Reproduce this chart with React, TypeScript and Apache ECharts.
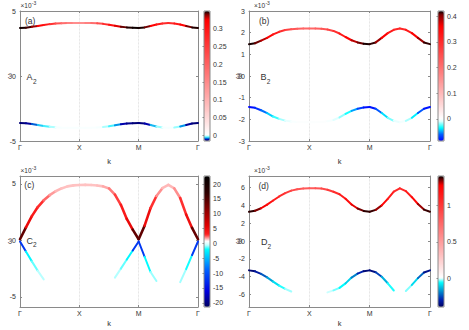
import React, { useEffect, useRef } from 'react';
import * as echarts from 'echarts';

// ---------- shared k path ----------
const K = [0, 0.1, 0.2, 0.3, 0.4, 0.5, 0.6, 0.7, 0.8, 0.9, 1, 1.1, 1.2, 1.3, 1.4, 1.5, 1.6, 1.7, 1.8, 1.9, 2, 2.1, 2.2, 2.3, 2.4, 2.5, 2.6, 2.7, 2.8, 2.9, 3];
const K_LABELS = ['Γ', 'X', 'M', 'Γ'];

// ---------- panel (a) A2 ----------
const A_UP = [3.70, 3.72, 3.78, 3.85, 3.93, 3.99, 4.03, 4.06, 4.07, 4.07, 4.07, 4.07, 4.07, 4.05, 4.01, 3.95, 3.87, 3.79, 3.74, 3.71, 3.70, 3.74, 3.85, 3.96, 4.04, 4.07, 4.04, 3.96, 3.85, 3.74, 3.70];
const A_UP_W = [0.349, 0.348, 0.342, 0.33, 0.31, 0.28, 0.24, 0.2, 0.17, 0.15, 0.14, 0.15, 0.17, 0.2, 0.25, 0.29, 0.32, 0.338, 0.346, 0.349, 0.349, 0.347, 0.335, 0.31, 0.28, 0.26, 0.28, 0.31, 0.335, 0.346, 0.349];
const A_LO = [-3.62, -3.64, -3.70, -3.77, -3.85, -3.91, -3.95, -3.98, -3.99, -3.99, -3.99, -3.99, -3.99, -3.97, -3.93, -3.87, -3.79, -3.71, -3.66, -3.63, -3.62, -3.66, -3.77, -3.88, -3.96, -3.99, -3.96, -3.88, -3.77, -3.66, -3.62];
const A_LO_W = [-0.016, -0.015, -0.011, -0.007, -0.006, -0.004, -0.0005, 0, 0, 0, 0, 0, 0, 0, -0.0005, -0.004, -0.006, -0.01, -0.013, -0.015, -0.016, -0.014, -0.009, -0.005, -0.0005, 0, -0.0005, -0.005, -0.011, -0.015, -0.016];
const A_Y_TICKS = [-5, 0, 5];
const A_C_TICKS = [0, 0.05, 0.1, 0.15, 0.2, 0.25, 0.3];

// ---------- panel (b) B2 ----------
const B_UP = [1.47, 1.51, 1.63, 1.76, 1.92, 2.04, 2.12, 2.16, 2.18, 2.19, 2.19, 2.19, 2.18, 2.15, 2.08, 1.96, 1.80, 1.65, 1.55, 1.49, 1.47, 1.55, 1.76, 1.98, 2.13, 2.19, 2.13, 1.98, 1.76, 1.55, 1.47];
const B_UP_W = [0.419, 0.415, 0.40, 0.37, 0.34, 0.31, 0.28, 0.25, 0.23, 0.22, 0.21, 0.22, 0.23, 0.25, 0.28, 0.31, 0.34, 0.37, 0.40, 0.415, 0.419, 0.41, 0.38, 0.34, 0.31, 0.30, 0.31, 0.34, 0.38, 0.41, 0.419];
const B_LO = [-1.43, -1.47, -1.58, -1.71, -1.87, -1.98, -2.06, -2.10, -2.12, -2.13, -2.13, -2.13, -2.12, -2.09, -2.03, -1.91, -1.75, -1.61, -1.51, -1.45, -1.43, -1.51, -1.71, -1.93, -2.07, -2.13, -2.07, -1.93, -1.71, -1.51, -1.43];
const B_LO_W = [-0.086, -0.08, -0.065, -0.05, -0.035, -0.022, -0.01, -0.002, 0, 0, 0, 0, 0, 0, -0.004, -0.012, -0.025, -0.04, -0.06, -0.078, -0.086, -0.075, -0.05, -0.03, -0.012, 0, -0.006, -0.025, -0.05, -0.075, -0.086];
const B_Y_TICKS = [-3, -2, -1, 0, 1, 2, 3];
const B_C_TICKS = [0, 0.1, 0.2, 0.3, 0.4];

// ---------- panel (c) C2 ----------
const C_UP = [0.1, 1.15, 2.15, 2.95, 3.55, 4.0, 4.35, 4.6, 4.78, 4.87, 4.9, 4.91, 4.9, 4.86, 4.78, 4.6, 4.05, 3.15, 1.9, 0.95, 0.1, 1.3, 2.85, 3.93, 4.62, 4.91, 4.6, 3.75, 2.3, 1.1, 0.1];
const C_UP_W = [22, 6, 4, 3.2, 2.6, 2.0, 1.6, 1.45, 1.4, 1.4, 1.4, 1.4, 1.4, 1.4, 1.5, 1.8, 2.4, 3.0, 4.0, 6, 22, 6, 3.5, 2.2, 1.6, 1.4, 1.6, 2.2, 3.5, 5.5, 22];
const C_LO = [-0.1, -0.98, -1.86, -2.7, -3.45, null, null, null, null, null, null, null, null, null, null, null, -3.3, -2.5, -1.7, -0.9, -0.1, -1.45, -2.8, -3.6, null, null, null, -3.7, -2.55, -1.3, -0.1];
const C_LO_W = [-21, -3, -1.6, -0.9, -0.3, null, null, null, null, null, null, null, null, null, null, null, -0.4, -0.9, -1.6, -3, -21, -3, -1.3, -0.4, null, null, null, -0.4, -1.2, -2.6, -21];
const C_Y_TICKS = [-5, 0, 5];
const C_C_TICKS = [-20, -15, -10, -5, 0, 5, 10, 15, 20];

// ---------- panel (d) D2 ----------
const D_UP = [3.29, 3.40, 3.68, 4.08, 4.55, 5.0, 5.37, 5.66, 5.81, 5.89, 5.92, 5.92, 5.89, 5.76, 5.53, 5.25, 4.75, 4.1, 3.65, 3.38, 3.29, 3.50, 4.0, 4.74, 5.55, 5.92, 5.60, 4.92, 4.16, 3.53, 3.29];
const D_UP_W = [1.40, 1.38, 1.32, 1.25, 1.18, 1.1, 1.02, 0.95, 0.88, 0.84, 0.82, 0.84, 0.88, 0.95, 1.02, 1.1, 1.18, 1.26, 1.33, 1.38, 1.40, 1.37, 1.3, 1.2, 1.1, 1.05, 1.1, 1.2, 1.3, 1.37, 1.40];
const D_LO = [-3.29, -3.40, -3.68, -4.08, -4.55, -5.0, -5.37, -5.66, null, null, null, null, null, -5.76, -5.53, -5.25, -4.75, -4.1, -3.65, -3.38, -3.29, -3.50, -4.0, -4.74, -5.55, null, -5.60, -4.92, -4.16, -3.53, -3.29];
const D_LO_W = [-0.395, -0.36, -0.28, -0.2, -0.12, -0.07, -0.035, -0.01, null, null, null, null, null, -0.005, -0.02, -0.045, -0.08, -0.14, -0.25, -0.35, -0.395, -0.33, -0.2, -0.09, -0.02, null, -0.01, -0.05, -0.15, -0.3, -0.395];
const D_Y_TICKS = [-6, -4, -2, 0, 2, 4, 6];
const D_C_TICKS = [0, 0.5, 1];

// ---------- styling ----------
const FONT = "'Liberation Sans', Arial, Helvetica, sans-serif";
const AX = '#8a8a8a';
const TXT = '#333333';

type Stop = [number, string];

const PANELS = [
  {
    up: A_UP, upW: A_UP_W, lo: A_LO, loW: A_LO_W, yTicks: A_Y_TICKS, ymin: -5, ymax: 5,
    box: { left: 20, top: 11, width: 178, height: 130 },
    cb: { left: 204, min: -0.016, max: 0.35, ticks: A_C_TICKS },
    stops: [[-0.016, '#000070'], [-0.01, '#0000c0'], [-0.007, '#00e5ff'], [-0.003, '#90ffff'], [0, '#ffffff'], [0.325, '#ff0000'], [0.34, '#800000'], [0.35, '#000000']] as Stop[],
    lw: [2, 2], kGap: 16,
  },
  {
    up: B_UP, upW: B_UP_W, lo: B_LO, loW: B_LO_W, yTicks: B_Y_TICKS, ymin: -3, ymax: 3,
    box: { left: 249, top: 11, width: 181, height: 130 },
    cb: { left: 438, min: -0.086, max: 0.42, ticks: B_C_TICKS },
    stops: [[-0.086, '#0000ff'], [-0.06, '#0060ff'], [-0.035, '#00ffff'], [-0.01, '#d8ffff'], [0, '#ffffff'], [0.36, '#ff0000'], [0.405, '#800000'], [0.42, '#000000']] as Stop[],
    lw: [2, 2], kGap: 16,
  },
  {
    up: C_UP, upW: C_UP_W, lo: C_LO, loW: C_LO_W, yTicks: C_Y_TICKS, ymin: -5.9, ymax: 5.7,
    box: { left: 20, top: 176, width: 178, height: 131 },
    cb: { left: 204, min: -21.4, max: 22.7, ticks: C_C_TICKS },
    stops: [[-21.4, '#000060'], [-16, '#0000e0'], [-9, '#0060ff'], [-2, '#00ffff'], [-0.5, '#c8ffff'], [0.8, '#ffffff'], [3, '#ff2020'], [6, '#e00000'], [11, '#900000'], [17, '#300000'], [22.7, '#000000']] as Stop[],
    lw: [2.6, 2], kGap: 12.5,
  },
  {
    up: D_UP, upW: D_UP_W, lo: D_LO, loW: D_LO_W, yTicks: D_Y_TICKS, ymin: -7.4, ymax: 7.3,
    box: { left: 249, top: 176, width: 181, height: 131 },
    cb: { left: 438, min: -0.4, max: 1.41, ticks: D_C_TICKS },
    stops: [[-0.4, '#000060'], [-0.3, '#0020b0'], [-0.18, '#0090d0'], [-0.06, '#00ffff'], [0, '#ffffff'], [1.28, '#ff0000'], [1.35, '#800000'], [1.41, '#000000']] as Stop[],
    lw: [2, 2], kGap: 12.5,
  },
];

function hexRgb(h: string) {
  const n = parseInt(h.slice(1), 16);
  return [(n >> 16) & 255, (n >> 8) & 255, n & 255];
}
function colorAt(stops: Stop[], v: number) {
  if (v <= stops[0][0]) return stops[0][1];
  for (let i = 0; i < stops.length - 1; i++) {
    const [a, ca] = stops[i];
    const [b, cb] = stops[i + 1];
    if (v <= b) {
      const t = (v - a) / (b - a);
      const A = hexRgb(ca), B = hexRgb(cb);
      const c = A.map((x, j) => Math.round(x + (B[j] - x) * t));
      return 'rgb(' + c.join(',') + ')';
    }
  }
  return stops[stops.length - 1][1];
}
function sampleMap(stops: Stop[], min: number, max: number, n: number) {
  const out: string[] = [];
  for (let i = 0; i < n; i++) out.push(colorAt(stops, min + ((max - min) * i) / (n - 1)));
  return out;
}
function segments(k: number[], w: (number | null)[], c: (number | null)[]) {
  const out: number[][] = [];
  for (let i = 0; i < k.length - 1; i++) {
    if (w[i] == null || w[i + 1] == null || c[i] == null || c[i + 1] == null) continue;
    out.push([k[i], w[i] as number, k[i + 1], w[i + 1] as number, ((c[i] as number) + (c[i + 1] as number)) / 2]);
  }
  return out;
}
const mkRender = (lw: number) => (params: any, api: any) => {
  const p0 = api.coord([api.value(0), api.value(1)]);
  const p1 = api.coord([api.value(2), api.value(3)]);
  return {
    type: 'line',
    shape: { x1: p0[0], y1: p0[1], x2: p1[0], y2: p1[1] },
    style: { stroke: api.visual('color'), lineWidth: lw, lineCap: 'round' },
  };
};

const tickLabel = { color: TXT, fontSize: 7, fontFamily: FONT };

function buildOption() {
  const grid: any[] = [];
  const xAxis: any[] = [];
  const yAxis: any[] = [];
  const series: any[] = [];
  const visualMap: any[] = [];

  PANELS.forEach((p) => {
    const g = grid.length;
    grid.push({ ...p.box, outerBoundsMode: 'none', containLabel: false });
    const xb = xAxis.length;
    xAxis.push({
      gridIndex: g, type: 'value', min: 0, max: 3, interval: 1, position: 'bottom',
      axisLine: { show: true, onZero: false, lineStyle: { color: AX, width: 1 } },
      axisTick: { show: true, inside: true, length: 2, lineStyle: { color: AX } },
      axisLabel: { ...tickLabel, margin: 3, showMinLabel: true, showMaxLabel: true, formatter: (v: number) => K_LABELS[Math.round(v)] },
      splitLine: { show: true, lineStyle: { color: '#cfcfcf', type: 'dotted', width: 0.7 } },
      name: 'k', nameLocation: 'middle', nameGap: p.kGap,
      nameTextStyle: { color: TXT, fontSize: 7.5, fontFamily: FONT },
    });
    xAxis.push({
      gridIndex: g, type: 'value', min: 0, max: 3, interval: 1, position: 'top',
      axisLine: { show: true, onZero: false, lineStyle: { color: AX, width: 1 } },
      axisTick: { show: true, inside: true, length: 2, lineStyle: { color: AX } },
      axisLabel: { show: false }, splitLine: { show: false },
    });
    const yl = yAxis.length;
    yAxis.push({
      gridIndex: g, type: 'value', min: p.ymin, max: p.ymax, position: 'left',
      axisLine: { show: true, onZero: false, lineStyle: { color: AX, width: 1 } },
      axisTick: { show: true, inside: true, length: 2, customValues: p.yTicks, lineStyle: { color: AX } },
      axisLabel: { ...tickLabel, margin: 4, customValues: p.yTicks },
      splitLine: { show: false },
    });
    yAxis.push({
      gridIndex: g, type: 'value', min: p.ymin, max: p.ymax, position: 'right',
      axisLine: { show: true, onZero: false, lineStyle: { color: AX, width: 1 } },
      axisTick: { show: true, inside: true, length: 2, customValues: p.yTicks, lineStyle: { color: AX } },
      axisLabel: { show: false }, splitLine: { show: false },
    });

    // colorbar grid + axis for its tick labels
    const cg = grid.length;
    grid.push({ left: p.cb.left, top: p.box.top, width: 6, height: p.box.height, show: true, borderColor: AX, borderWidth: 1, backgroundColor: 'transparent', z: 10, outerBoundsMode: 'none' });
    xAxis.push({ gridIndex: cg, type: 'value', min: 0, max: 1, show: false });
    yAxis.push({
      gridIndex: cg, type: 'value', min: p.cb.min, max: p.cb.max, position: 'right', z: 10,
      axisLine: { show: false },
      axisTick: { show: true, inside: true, length: 1.5, customValues: p.cb.ticks, lineStyle: { color: AX } },
      axisLabel: { ...tickLabel, margin: 3, customValues: p.cb.ticks },
      splitLine: { show: false },
    });

    const s0 = series.length;
    series.push({
      type: 'custom', xAxisIndex: xb, yAxisIndex: yl, renderItem: mkRender(p.lw[0]),
      encode: { x: [0, 2], y: [1, 3] }, data: segments(K, p.up, p.upW), silent: true,
    });
    series.push({
      type: 'custom', xAxisIndex: xb, yAxisIndex: yl, renderItem: mkRender(p.lw[1]),
      encode: { x: [0, 2], y: [1, 3] }, data: segments(K, p.lo, p.loW), silent: true,
    });
    visualMap.push({
      type: 'continuous', seriesIndex: [s0, s0 + 1], dimension: 4,
      min: p.cb.min, max: p.cb.max, inRange: { color: sampleMap(p.stops, p.cb.min, p.cb.max, 140) },
      orient: 'vertical', left: p.cb.left, top: p.box.top, itemWidth: 6, itemHeight: p.box.height,
      padding: 0, calculable: false, hoverLink: false, realtime: false,
    });
  });

  const t = (x: number, y: number, text: string, size: number) => ({
    type: 'text', x, y, z: 100, silent: true,
    style: { text, fontSize: size, fontFamily: FONT, fill: TXT, align: 'left', verticalAlign: 'middle' },
  });
  const w = (x: number, y: number) => ({
    type: 'text', x, y, rotation: Math.PI / 2, z: 100, silent: true,
    style: { text: 'ω', fontSize: 7.5, fontFamily: FONT, fill: TXT, align: 'center', verticalAlign: 'middle' },
  });
  const graphic = [
    t(25, 21, '(a)', 8.5), t(259, 21, '(b)', 8.5), t(24.3, 185, '(c)', 8.5), t(258.5, 186, '(d)', 8.5),
    t(26.5, 77, 'A', 9), t(33, 81, '2', 6.5),
    t(260.5, 77, 'B', 9), t(266.8, 81, '2', 6.5),
    t(26.5, 240.5, 'C', 9), t(33, 244.5, '2', 6.5),
    t(261, 242, 'D', 9), t(267.5, 246, '2', 6.5),
    t(20.5, 5.8, '×10', 6.5), t(31.8, 3, '-3', 5),
    t(254, 5.8, '×10', 6.5), t(265.4, 3, '-3', 5),
    t(20.5, 170.8, '×10', 6.5), t(31.8, 168, '-3', 5),
    t(254, 170.8, '×10', 6.5), t(265.4, 168, '-3', 5),
    w(9.5, 76), w(239.5, 76), w(9.5, 241), w(239.5, 241), w(237, 76), w(237, 241),
  ];

  return {
    animation: false,
    backgroundColor: '#ffffff',
    textStyle: { fontFamily: FONT },
    grid, xAxis, yAxis, series, visualMap, graphic,
  };
}

export default function App() {
  const ref = useRef<HTMLDivElement>(null);
  useEffect(() => {
    if (!ref.current) return;
    const chart = echarts.init(ref.current, undefined, { renderer: 'svg' });
    chart.setOption(buildOption() as any);
    return () => chart.dispose();
  }, []);
  return <div ref={ref} style={{ position: 'fixed', left: 0, top: 0, width: 469, height: 330 }} />;
}
